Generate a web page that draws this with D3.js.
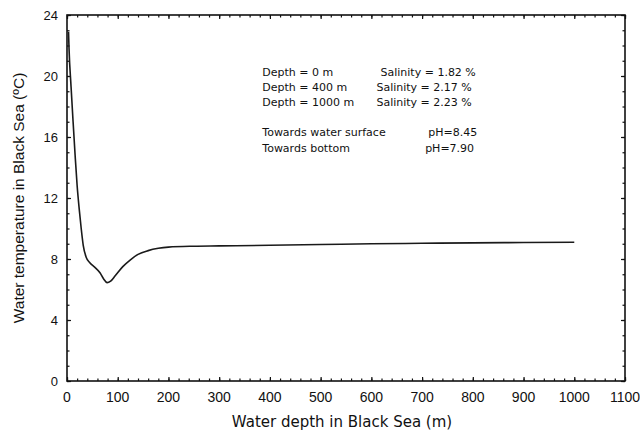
<!DOCTYPE html>
<html>
<head>
<meta charset="utf-8">
<script src="https://cdn.jsdelivr.net/npm/d3@7"></script>
<style>
  body { margin: 0; background: #fff; }
  .tick-label { font-family: "Liberation Sans", Arial, sans-serif; font-size: 13px; fill: #111; }
  .note { font-family: "DejaVu Sans", Verdana, sans-serif; font-size: 11px; fill: #111; }
</style>
</head>
<body>
<div id="chart"></div>
<script>
// depth (m) and water temperature (deg C)
var depth = [3, 4, 8, 12, 16, 20, 24, 28, 32, 38, 45, 55, 65, 72, 79, 86, 95, 110, 125, 140, 160, 180, 200, 250, 300, 400, 500, 600, 700, 800, 900, 1000];
var temp  = [22.9, 21.8, 19.3, 17.0, 14.8, 12.8, 11.3, 10.0, 8.9, 8.1, 7.75, 7.45, 7.1, 6.7, 6.45, 6.55, 6.9, 7.5, 7.95, 8.3, 8.55, 8.7, 8.78, 8.84, 8.86, 8.9, 8.95, 9.0, 9.03, 9.06, 9.08, 9.1];

var xTicks = [0, 100, 200, 300, 400, 500, 600, 700, 800, 900, 1000, 1100];
var yTicks = [0, 4, 8, 12, 16, 20, 24];

var notesLeft  = ["Depth = 0 m", "Depth = 400 m", "Depth = 1000 m"];
var notesRight = ["Salinity = 1.82 %", "Salinity = 2.17 %", "Salinity = 2.23 %"];
var phLabels   = ["Towards water surface", "Towards bottom"];
var phValues   = ["pH=8.45", "pH=7.90"];

var W = 640, H = 430;
var margin = {top: 15, right: 15, bottom: 49, left: 67};
var width = W - margin.left - margin.right,
    height = H - margin.top - margin.bottom;

var svg = d3.select("#chart").append("svg")
    .attr("width", W)
    .attr("height", H);
var g = svg.append("g")
    .attr("transform", "translate(" + margin.left + "," + margin.top + ")");

var x = d3.scaleLinear().domain([0, 1100]).range([0, width]);
var y = d3.scaleLinear().domain([0, 24]).range([height, 0]);

var minorX = d3.range(0, 1101, 20);
var minorY = d3.range(0, 25, 1);

// inward ticks on all four sides
function ticks(axis, vals, len) {
    return axis.tickValues(vals).tickSize(len).tickFormat("");
}
g.append("g").attr("class", "ax").attr("transform", "translate(0," + height + ")")
    .call(ticks(d3.axisTop(x), minorX, 2.5));
g.append("g").attr("class", "ax").attr("transform", "translate(0," + height + ")")
    .call(ticks(d3.axisTop(x), xTicks, 4));
g.append("g").attr("class", "ax")
    .call(ticks(d3.axisBottom(x), minorX, 2.5));
g.append("g").attr("class", "ax")
    .call(ticks(d3.axisBottom(x), xTicks, 4));
g.append("g").attr("class", "ax")
    .call(ticks(d3.axisRight(y), minorY, 2.5));
g.append("g").attr("class", "ax")
    .call(ticks(d3.axisRight(y), yTicks, 4));
g.append("g").attr("class", "ax").attr("transform", "translate(" + width + ",0)")
    .call(ticks(d3.axisLeft(y), minorY, 2.5));
g.append("g").attr("class", "ax").attr("transform", "translate(" + width + ",0)")
    .call(ticks(d3.axisLeft(y), yTicks, 4));
g.selectAll(".ax .domain").remove();
g.selectAll(".ax line").attr("stroke", "#111").attr("stroke-width", 1.2);

// frame
g.append("rect")
    .attr("x", 0).attr("y", 0)
    .attr("width", width).attr("height", height)
    .attr("fill", "none")
    .attr("stroke", "#111")
    .attr("stroke-width", 1.6);

// tick labels
g.selectAll(".xl").data(xTicks).enter().append("text")
    .attr("class", "tick-label")
    .attr("x", d => x(d))
    .attr("y", height + 21)
    .attr("text-anchor", "middle")
    .style("font-size", "14px")
    .text(d => d);
g.selectAll(".yl").data(yTicks).enter().append("text")
    .attr("class", "tick-label")
    .attr("x", -9)
    .attr("y", d => y(d) + 4.5)
    .attr("text-anchor", "end")
    .text(d => d);

// axis titles
svg.append("text")
    .attr("x", 342).attr("y", 427)
    .attr("text-anchor", "middle")
    .style("font-family", "'DejaVu Sans', Verdana, sans-serif")
    .style("font-size", "15px")
    .style("fill", "#111")
    .text("Water depth in Black Sea (m)");
svg.append("text")
    .attr("transform", "translate(24,198) rotate(-90)")
    .attr("text-anchor", "middle")
    .style("font-family", "'Liberation Sans', Arial, sans-serif")
    .style("font-size", "15.5px")
    .style("fill", "#111")
    .text("Water temperature in Black Sea (ºC)");

// curve
var pts = depth.map((d, i) => [d, temp[i]]);
var line = d3.line()
    .x(d => x(d[0]))
    .y(d => y(d[1]))
    .curve(d3.curveMonotoneX);
g.append("path")
    .datum(pts)
    .attr("d", line)
    .attr("fill", "none")
    .attr("stroke", "#1a1a1a")
    .attr("stroke-width", 1.6);

// notes placed in data coordinates
var noteX = x(385), saltX = [x(618), x(610), x(610)];
notesLeft.forEach((t, i) => {
    g.append("text").attr("class", "note")
        .attr("x", noteX).attr("y", y(20.0 - i * 0.98))
        .text(t);
    g.append("text").attr("class", "note")
        .attr("x", saltX[i]).attr("y", y(20.0 - i * 0.98))
        .text(notesRight[i]);
});
var phX = [x(712), x(706)];
phLabels.forEach((t, i) => {
    g.append("text").attr("class", "note")
        .attr("x", noteX).attr("y", y(16.05 - i * 1.05))
        .text(t);
    g.append("text").attr("class", "note")
        .attr("x", phX[i]).attr("y", y(16.05 - i * 1.05))
        .text(phValues[i]);
});
</script>
</body>
</html>
